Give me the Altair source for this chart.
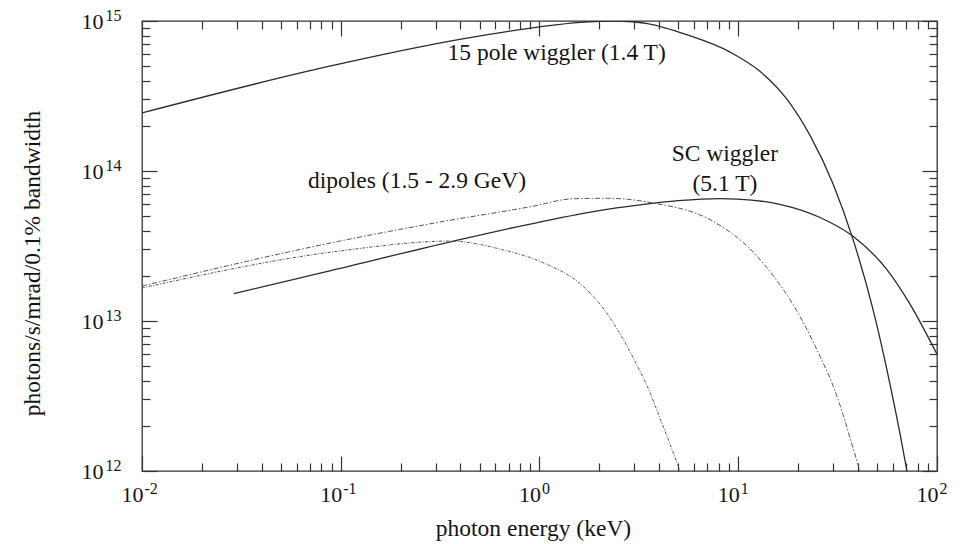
import altair as alt
import pandas as pd

# Flux curves: photon energy (keV) and flux (photons/s/mrad/0.1% bandwidth)
wig15_energy = [0.01, 0.088, 0.41, 0.98, 1.6, 2.5, 3.5, 5.5, 9.1, 12.9, 17.6, 23.0, 30.0, 37.8, 47.6, 58.0, 65.0, 70.6]
wig15_flux = [2.44e14, 5.0e14, 7.6e14, 9.1e14, 9.8e14, 1.0e15, 9.6e14, 8.1e14, 6.2e14, 4.6e14, 3.0e14, 1.72e14,
              8.2e13, 3.5e13, 1.2e13, 3.8e12, 1.8e12, 1.0e12]

scw_energy = [0.029, 0.088, 0.37, 1.0, 2.0, 3.2, 5.0, 8.1, 9.9, 16.2, 25.8, 37.8, 56.0, 73.0, 100.0]
scw_flux = [1.52e13, 2.16e13, 3.41e13, 4.57e13, 5.45e13, 5.95e13, 6.35e13, 6.55e13, 6.5e13, 6.0e13, 4.9e13,
            3.67e13, 2.2e13, 1.3e13, 6.0e12]

dip29_energy = [0.01, 0.099, 0.316, 0.895, 1.48, 2.19, 3.6, 7.8, 11.9, 15.0, 18.8, 22.2, 25.8, 30.0, 32.5, 38.6, 41.0]
dip29_flux = [1.71e13, 3.41e13, 4.57e13, 5.77e13, 6.53e13, 6.58e13, 6.17e13, 4.47e13, 2.88e13, 2.0e13, 1.3e13,
              8.75e12, 5.8e12, 3.7e12, 2.75e12, 1.3e12, 1.0e12]

dip15_energy = [0.01, 0.099, 0.355, 0.65, 1.04, 1.66, 2.19, 2.63, 3.2, 3.4, 4.18, 5.1]
dip15_flux = [1.66e13, 2.93e13, 3.41e13, 2.99e13, 2.45e13, 1.7e13, 1.12e13, 7.6e12, 4.64e12, 3.95e12,
              2.0e12, 1.0e12]

# In-plot annotations
note_text = ["15 pole wiggler (1.4 T)", "SC wiggler", "(5.1 T)", "dipoles (1.5 - 2.9 GeV)"]
note_energy = [1.22, 8.57, 8.57, 0.242]
note_flux = [5.5e14, 1.17e14, 7.36e13, 7.7e13]

# Axis decades (labels are written as 10 with a raised exponent)
x_exponents = [-2, -1, 0, 1, 2]
y_exponents = [12, 13, 14, 15]

SERIF = "Liberation Serif"
INK = "#141414"
TICK = "#333333"
BASE_SIZE = 22
EXP_SIZE = 16


def exponent_expr(exponents):
    expr = f"'{exponents[-1]}'"
    for e in reversed(exponents[:-1]):
        expr = f"datum.value < {10.0 ** e * 3.0} ? '{e}' : " + expr
    return expr


x_major = [10.0 ** e for e in x_exponents]
y_major = [10.0 ** e for e in y_exponents]
x_minor = [m * 10.0 ** e for e in x_exponents[:-1] for m in range(2, 10)]
y_minor = [m * 10.0 ** e for e in y_exponents[:-1] for m in range(2, 10)]

MAJ, MIN = 15, 8
tick_style = dict(tickColor=TICK, tickWidth=1.2, domain=False, grid=False, labelFlush=False, labelOverlap=False)
base_label = dict(labelFont=SERIF, labelFontSize=BASE_SIZE, labelColor=INK, labelExpr="'10'")

# bottom / left: ticks and the "10" of each label, plus the axis titles
ax_bottom = alt.Axis(orient="bottom", values=x_major, offset=-MAJ, tickSize=MAJ, labelAlign="right",
                     labelOffset=1, labelPadding=13, title="photon energy (keV)", titleFont=SERIF,
                     titleFontSize=23.5, titleFontWeight="normal", titleColor=INK, titleX=391, titleY=79,
                     titleAlign="center", titleBaseline="alphabetic", **base_label, **tick_style)
ax_left = alt.Axis(orient="left", values=y_major, offset=-MAJ, tickSize=MAJ, labelAlign="right",
                   labelPadding=39, title="photons/s/mrad/0.1% bandwidth", titleFont=SERIF, titleFontSize=23.5,
                   titleFontWeight="normal", titleColor=INK, titleAngle=270, titleX=-118, titleY=242,
                   titleAlign="center", titleBaseline="alphabetic", **base_label, **tick_style)

# the raised exponents
exp_label = dict(labelFont=SERIF, labelFontSize=EXP_SIZE, labelColor=INK, labelAlign="left", title=None,
                 tickOpacity=0)
ax_bottom_exp = alt.Axis(orient="bottom", values=x_major, offset=-MAJ, tickSize=MAJ, labelOffset=2,
                         labelPadding=9, labelExpr=exponent_expr(x_exponents), **exp_label, **tick_style)
ax_left_exp = alt.Axis(orient="left", values=y_major, offset=-MAJ, tickSize=MAJ, labelOffset=-6,
                       labelPadding=37, labelExpr=exponent_expr(y_exponents), **exp_label, **tick_style)

# minor ticks and mirrored ticks on the top and right edges
ax_bottom_minor = alt.Axis(orient="bottom", values=x_minor, offset=-MIN, tickSize=MIN, labels=False, title=None,
                           **tick_style)
ax_left_minor = alt.Axis(orient="left", values=y_minor, offset=-MIN, tickSize=MIN, labels=False, title=None,
                         **tick_style)
ax_top = alt.Axis(orient="top", values=x_major, offset=-MAJ, tickSize=MAJ, labels=False, title=None, **tick_style)
ax_right = alt.Axis(orient="right", values=y_major, offset=-MAJ, tickSize=MAJ, labels=False, title=None,
                    **tick_style)
ax_top_minor = alt.Axis(orient="top", values=x_minor, offset=-MIN, tickSize=MIN, labels=False, title=None,
                        **tick_style)
ax_right_minor = alt.Axis(orient="right", values=y_minor, offset=-MIN, tickSize=MIN, labels=False, title=None,
                          **tick_style)

xscale = alt.Scale(type="log", domain=[0.01, 100], nice=False)
yscale = alt.Scale(type="log", domain=[1e12, 1e15], nice=False)

wig15 = pd.DataFrame({"energy": wig15_energy, "flux": wig15_flux})
scw = pd.DataFrame({"energy": scw_energy, "flux": scw_flux})
dip29 = pd.DataFrame({"energy": dip29_energy, "flux": dip29_flux})
dip15 = pd.DataFrame({"energy": dip15_energy, "flux": dip15_flux})
notes = pd.DataFrame({"text": note_text, "energy": note_energy, "flux": note_flux})


def curve(df, xaxis, yaxis, **style):
    return alt.Chart(df).mark_line(interpolate="monotone", clip=True, **style).encode(
        x=alt.X("energy:Q", scale=xscale, axis=xaxis),
        y=alt.Y("flux:Q", scale=yscale, axis=yaxis),
    )


solid = dict(color="#2a2a2a", strokeWidth=1.3)
wiggler15 = curve(wig15, ax_bottom, ax_left, **solid)
sc_wiggler = curve(scw, ax_bottom_exp, ax_left_exp, **solid)
dipole_high = curve(dip29, ax_bottom_minor, ax_left_minor, color="#555555", strokeWidth=1.0,
                    strokeDash=[5, 2, 1.5, 2])
dipole_low = curve(dip15, ax_top, ax_right, color="#555555", strokeWidth=1.0, strokeDash=[3, 1.5, 1, 1.5])

labels = alt.Chart(notes).mark_text(font=SERIF, fontSize=23.5, color=INK, align="center",
                                    baseline="alphabetic").encode(
    x=alt.X("energy:Q", scale=xscale, axis=ax_top_minor),
    y=alt.Y("flux:Q", scale=yscale, axis=ax_right_minor),
    text="text:N",
)

chart = alt.layer(wiggler15, sc_wiggler, dipole_high, dipole_low, labels).resolve_axis(
    x="independent", y="independent"
).properties(
    width=795,
    height=450,
    autosize=alt.AutoSizeParams(type="none"),
    padding={"left": 142, "top": 21, "right": 26, "bottom": 73},
    background="white",
).configure_view(stroke="#333333", strokeWidth=1.3)

chart.save("out.html", embed_options={"renderer": "svg", "actions": False})
